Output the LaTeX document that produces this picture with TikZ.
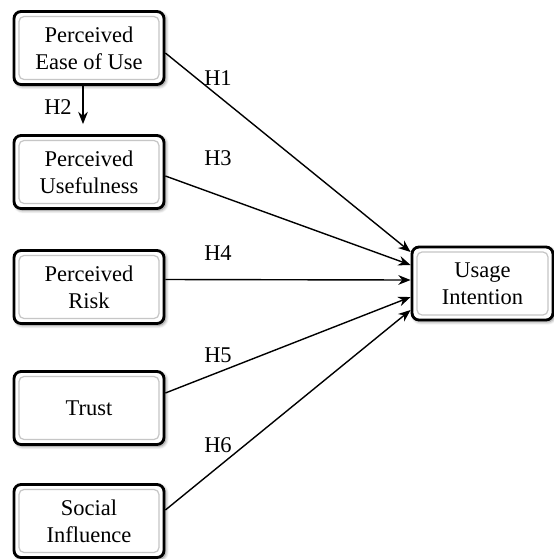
\documentclass[tikz,border=0pt]{standalone}
\usepackage{fontspec}
\setmainfont{Liberation Serif}
\usetikzlibrary{calc, arrows.meta, shadows.blur}

\begin{document}
\begin{tikzpicture}[
			x=0.02cm, y=-0.02cm,
			>={Stealth[length=7pt, width=5.5pt]},
			font=\fontsize{12.8}{15.5}\selectfont,
			conbox/.style={draw, line width=1.6pt, rounded corners=4pt, rectangle, fill=white,
				minimum width=3cm, minimum height=1.46cm, align=center,
				blur shadow={shadow xshift=1pt, shadow yshift=-1pt, shadow blur steps=6, shadow opacity=50},
				path picture={\draw[gray!45, line width=0.7pt, rounded corners=3pt]
					([shift={(2.8pt,-2.8pt)}]path picture bounding box.north west) rectangle
					([shift={(-2.8pt,2.8pt)}]path picture bounding box.south east);}},
			hyp/.style={->, line width=0.8pt},
			hlabel/.style={inner sep=1pt}
		]
		\useasboundingbox (0,0) rectangle (554,559);

		\node[conbox] (pe) at (89,48) {Perceived\\Ease of Use};
		\node[conbox] (pu) at (89,172) {Perceived\\Usefulness};
		\node[conbox] (pr) at (89,287) {Perceived\\Risk};
		\node[conbox] (tr) at (89,408) {Trust};
		\node[conbox] (si) at (89,521) {Social\\Influence};
		\node[conbox, minimum width=2.82cm] (ui) at (482.5,283.5) {Usage\\Intention};

		\node[hlabel] (h1) at (218,78) {H1};
		\node[hlabel] (h2) at (58,107) {H2};
		\node[hlabel] (h3) at (218,158) {H3};
		\node[hlabel] (h4) at (218,253) {H4};
		\node[hlabel] (h5) at (218,355) {H5};
		\node[hlabel] (h6) at (218,445) {H6};

		\draw[hyp] ($(pe.east)+(0,5)$) -- ($(ui.west)+(0,-31.5)$);
		\draw[hyp, shorten >=0.2cm] ($(pe.south)+(-6,0)$) -- ($(pu.north)+(-6,0)$);
		\draw[hyp] ($(pu.east)+(0,4)$) -- ($(ui.west)+(0,-18.5)$);
		\draw[hyp] ($(pr.east)+(0,-7.5)$) -- ($(ui.west)+(0,-3.5)$);
		\draw[hyp] ($(tr.east)+(0,-15)$) -- ($(ui.west)+(0,13.5)$);
		\draw[hyp] ($(si.east)+(0,-11)$) -- ($(ui.west)+(0,26.5)$);
	\end{tikzpicture}
\end{document}
